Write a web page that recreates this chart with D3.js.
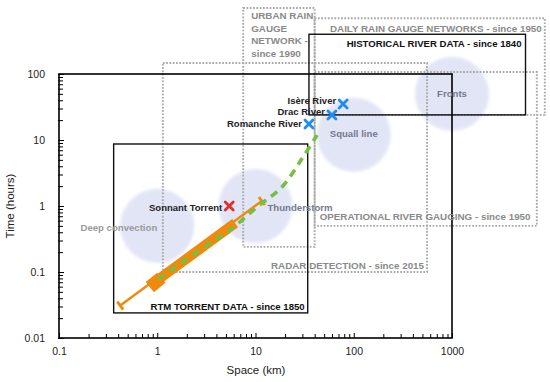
<!DOCTYPE html>
<html lang="en">
<head>
<meta charset="utf-8">
<title>Space-time scales</title>
<script src="https://d3js.org/d3.v7.min.js"></script>
<style>
  body { margin: 0; background: #fff; }
  svg { font-family: "Liberation Sans", Arial, Helvetica, sans-serif; }
</style>
</head>
<body>
<svg id="chart" width="550" height="382"></svg>
<script>
// tick labels
const xTicks = [0.1, 1, 10, 100, 1000];
const yTicks = [0.01, 0.1, 1, 10, 100];

// meteorological phenomena (space km, time h)
const regimes = ["Deep convection", "Thunderstorm", "Squall line", "Fronts"];
const regimeSpace = [1, 10, 100, 1000];
const regimeTime = [0.5, 1, 12, 50];

// observation networks, dotted boxes [x0, x1, t0, t1]
const networks = ["URBAN RAIN GAUGE NETWORK - since 1990", "DAILY RAIN GAUGE NETWORKS - since 1950",
  "OPERATIONAL RIVER GAUGING - since 1950", "RADAR DETECTION - since 2015"];
const networkBounds = [[7.5, 40, 0.24, 1000], [40, 8800, 24, 700], [40, 7300, 0.5, 107], [1.14, 557, 0.1, 147]];

// historical data, solid boxes
const archives = ["HISTORICAL RIVER DATA - since 1840", "RTM TORRENT DATA - since 1850"];
const archiveBounds = [[35, 5600, 24, 400], [0.36, 34, 0.024, 8.7]];

// gauged rivers
const rivers = ["Isère River", "Drac River", "Romanche River"];
const riverSpace = [78, 60, 35];
const riverTime = [35, 24, 17.5];

// Sonnant torrent
const torrentSpace = 5.4;
const torrentTime = 1;

// RTM torrent range: whisker and box
const rtmWhisker = [[0.42, 0.031], [11.6, 1.19]];
const rtmBoxLow = [[0.84, 0.059], [1.1, 0.082]];
const rtmBox = [[1.0, 0.075], [6.2, 0.55]];

// scaling relation (green dashed)
const fitSpace = [1.02, 2.7, 5.5, 10.4, 18.6, 30.4, 42.3];
const fitTime = [0.078, 0.215, 0.43, 0.97, 1.94, 5.5, 11.9];

const svg = d3.select("#chart");
const margin = { top: 74, right: 98, bottom: 44, left: 59 };
const width = 550, height = 382;

const x = d3.scaleLog().domain([0.1, 1000]).range([margin.left, width - margin.right]);
const y = d3.scaleLog().domain([0.01, 100]).range([height - margin.bottom, margin.top]);

const defs = svg.append("defs");
defs.append("filter").attr("id", "soft")
  .attr("x", "-20%").attr("y", "-20%").attr("width", "140%").attr("height", "140%")
  .append("feGaussianBlur").attr("stdDeviation", 1.8);

// phenomena circles
svg.append("g").selectAll("circle")
  .data(regimes)
  .join("circle")
  .attr("cx", (d, i) => x(regimeSpace[i]))
  .attr("cy", (d, i) => y(regimeTime[i]))
  .attr("r", 37)
  .attr("fill", "#e2e5f6")
  .attr("filter", "url(#soft)");

// dotted network boxes
const boxRect = b => ({ x: x(b[0]), y: y(b[3]), w: x(b[1]) - x(b[0]), h: y(b[2]) - y(b[3]) });

svg.append("g").selectAll("rect")
  .data(networkBounds)
  .join("rect")
  .attr("x", d => boxRect(d).x)
  .attr("y", d => boxRect(d).y)
  .attr("width", d => boxRect(d).w)
  .attr("height", d => boxRect(d).h)
  .attr("fill", "none")
  .attr("stroke", "#a8a8a8")
  .attr("stroke-width", 1.9)
  .attr("stroke-dasharray", "1.7,1.6");

// solid archive boxes
svg.append("g").selectAll("rect")
  .data(archiveBounds)
  .join("rect")
  .attr("x", d => boxRect(d).x)
  .attr("y", d => boxRect(d).y)
  .attr("width", d => boxRect(d).w)
  .attr("height", d => boxRect(d).h)
  .attr("fill", "none")
  .attr("stroke", "#111")
  .attr("stroke-width", 1.4);

// axes frame
svg.append("rect")
  .attr("x", x(0.1)).attr("y", y(100))
  .attr("width", x(1000) - x(0.1)).attr("height", y(0.01) - y(100))
  .attr("fill", "none").attr("stroke", "#000").attr("stroke-width", 1.6);

const isMajor = v => Math.abs(Math.log10(v) - Math.round(Math.log10(v))) < 1e-6;

const xAxis = svg.append("g")
  .attr("transform", `translate(0,${y(0.01)})`)
  .call(d3.axisBottom(x).tickValues(x.ticks()).tickSizeInner(-4).tickSizeOuter(0).tickPadding(10)
    .tickFormat(d => { const i = xTicks.findIndex(t => Math.abs(t - d) < 1e-9); return i < 0 ? "" : String(xTicks[i]); }));
xAxis.select(".domain").remove();
xAxis.selectAll("line").attr("stroke", "#000").attr("stroke-width", 1).attr("y2", d => isMajor(d) ? -5 : -4);
xAxis.selectAll("text").attr("font-size", 10.5).attr("fill", "#222").attr("font-family", null);

const yAxis = svg.append("g")
  .attr("transform", `translate(${x(0.1)},0)`)
  .call(d3.axisLeft(y).tickValues(y.ticks()).tickSizeInner(-4).tickSizeOuter(0).tickPadding(14)
    .tickFormat(d => { const i = yTicks.findIndex(t => Math.abs(t - d) < 1e-12); return i < 0 ? "" : String(yTicks[i]); }));
yAxis.select(".domain").remove();
yAxis.selectAll("line").attr("stroke", "#000").attr("stroke-width", 1).attr("x1", -1).attr("x2", d => isMajor(d) ? 5 : 4);
yAxis.selectAll("text").attr("font-size", 10.5).attr("fill", "#222").attr("font-family", null);

svg.append("text")
  .attr("x", 256).attr("y", 374)
  .attr("text-anchor", "middle").attr("font-size", 11.5).attr("fill", "#222")
  .text("Space (km)");

svg.append("text")
  .attr("transform", `translate(14,${(y(0.01) + y(100)) / 2}) rotate(-90)`)
  .attr("text-anchor", "middle").attr("font-size", 11.5).attr("fill", "#222")
  .text("Time (hours)");

// RTM torrent whisker
const orange = "#ef8a0c";
const wp = rtmWhisker.map(p => [x(p[0]), y(p[1])]);
svg.append("line")
  .attr("x1", wp[0][0]).attr("y1", wp[0][1]).attr("x2", wp[1][0]).attr("y2", wp[1][1])
  .attr("stroke", orange).attr("stroke-width", 2.4);
const dx = wp[1][0] - wp[0][0], dy = wp[1][1] - wp[0][1], len = Math.hypot(dx, dy);
const nx = -dy / len * 5, ny = dx / len * 5;
svg.append("g").selectAll("line")
  .data(wp)
  .join("line")
  .attr("x1", d => d[0] - nx).attr("y1", d => d[1] - ny)
  .attr("x2", d => d[0] + nx).attr("y2", d => d[1] + ny)
  .attr("stroke", orange).attr("stroke-width", 2.8);

svg.append("line")
  .attr("x1", x(rtmBoxLow[0][0])).attr("y1", y(rtmBoxLow[0][1]))
  .attr("x2", x(rtmBoxLow[1][0])).attr("y2", y(rtmBoxLow[1][1]))
  .attr("stroke", orange).attr("stroke-width", 13);
svg.append("line")
  .attr("x1", x(rtmBox[0][0])).attr("y1", y(rtmBox[0][1]))
  .attr("x2", x(rtmBox[1][0])).attr("y2", y(rtmBox[1][1]))
  .attr("stroke", orange).attr("stroke-width", 10);

// scaling relation
svg.append("path")
  .datum(fitSpace.map((s, i) => [s, fitTime[i]]))
  .attr("d", d3.line().x(d => x(d[0])).y(d => y(d[1])).curve(d3.curveCatmullRom))
  .attr("fill", "none")
  .attr("stroke", "#76bf45")
  .attr("stroke-width", 3.6)
  .attr("stroke-dasharray", "8,6");

// markers
const cross = (g, cx, cy, color) => {
  g.append("path")
    .attr("d", `M${cx - 4},${cy - 4}L${cx + 4},${cy + 4}M${cx - 4},${cy + 4}L${cx + 4},${cy - 4}`)
    .attr("stroke", color).attr("stroke-width", 2.8).attr("stroke-linecap", "round");
};
const marks = svg.append("g");
rivers.forEach((r, i) => cross(marks, x(riverSpace[i]), y(riverTime[i]), "#1e8cf0"));
cross(marks, x(torrentSpace), y(torrentTime), "#e0302c");

// labels
const gray = "#8a8a8a";
const lab = svg.append("g").attr("font-weight", "bold");

// urban network, stacked lines
const ub = boxRect(networkBounds[0]);
["URBAN RAIN", "GAUGE", "NETWORK -", "since 1990"].forEach((t, i) => {
  lab.append("text").attr("x", ub.x + 8).attr("y", ub.y + 11 + i * 12.5)
    .attr("font-size", 9.8).attr("fill", gray).text(t);
});
const db = boxRect(networkBounds[1]);
lab.append("text").attr("x", db.x + db.w - 3).attr("y", db.y + 13.5)
  .attr("text-anchor", "end").attr("font-size", 9.8).attr("fill", gray).text(networks[1]);
const ob = boxRect(networkBounds[2]);
lab.append("text").attr("x", ob.x + 5).attr("y", ob.y + ob.h - 5.5)
  .attr("font-size", 9.8).attr("fill", gray).text(networks[2]);
const rb = boxRect(networkBounds[3]);
lab.append("text").attr("x", rb.x + rb.w - 3).attr("y", rb.y + rb.h - 3.5)
  .attr("text-anchor", "end").attr("font-size", 9.8).attr("fill", gray).text(networks[3]);

const hb = boxRect(archiveBounds[0]);
lab.append("text").attr("x", hb.x + hb.w - 4).attr("y", hb.y + 12.5)
  .attr("text-anchor", "end").attr("font-size", 9.6).attr("fill", "#111").text(archives[0]);
const tb = boxRect(archiveBounds[1]);
lab.append("text").attr("x", tb.x + tb.w - 3).attr("y", tb.y + tb.h - 2.5)
  .attr("text-anchor", "end").attr("font-size", 9.6).attr("fill", "#111").text(archives[1]);

// phenomena names
const regAnchor = ["end", "start", "middle", "middle"];
const regDx = [0, 12, 0, 0];
const regDy = [5.5, 4.5, 2.5, 3];
lab.selectAll(".reg")
  .data(regimes)
  .join("text")
  .attr("class", "reg")
  .attr("x", (d, i) => x(regimeSpace[i]) + regDx[i])
  .attr("y", (d, i) => y(regimeTime[i]) + regDy[i])
  .attr("text-anchor", (d, i) => regAnchor[i])
  .attr("font-size", 9.6)
  .attr("fill", (d, i) => i === 0 ? "#9a9a9a" : "#767a90")
  .text(d => d);

lab.selectAll(".riv")
  .data(rivers)
  .join("text")
  .attr("class", "riv")
  .attr("x", (d, i) => x(riverSpace[i]) - 7)
  .attr("y", (d, i) => y(riverTime[i]) - [0.5, -0.5, -3.5][i])
  .attr("text-anchor", "end")
  .attr("font-size", 9.5)
  .attr("fill", "#222")
  .text(d => d);

lab.append("text")
  .attr("x", x(torrentSpace) - 7).attr("y", y(torrentTime) + 4.5)
  .attr("text-anchor", "end").attr("font-size", 9.5).attr("fill", "#222")
  .text("Sonnant Torrent");
</script>
</body>
</html>
